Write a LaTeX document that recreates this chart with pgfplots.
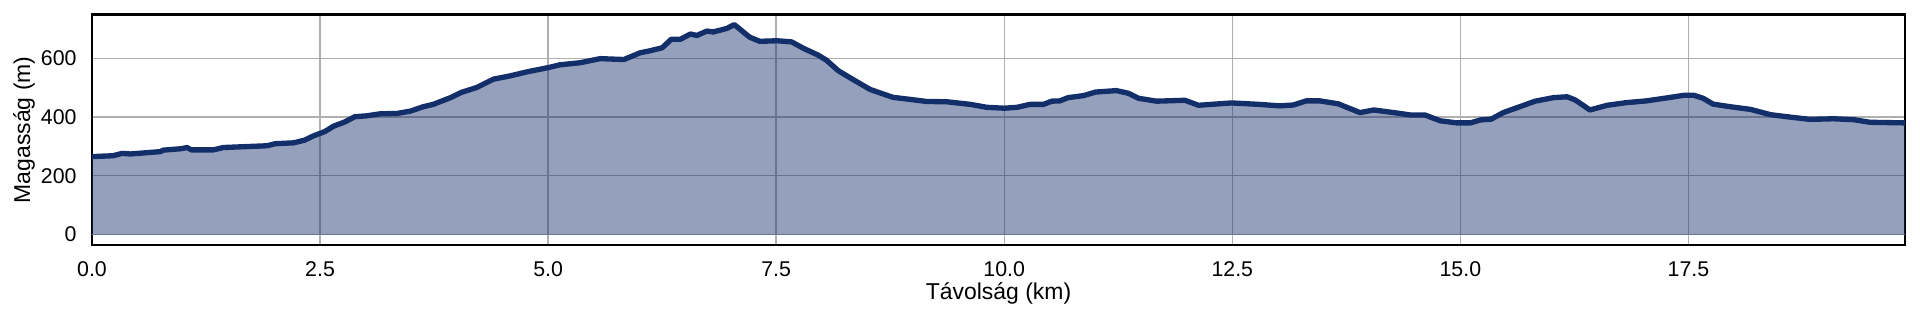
\documentclass[border=0pt]{standalone}
\usepackage{fontspec}
\setmainfont{Liberation Sans}
\usepackage{pgfplots}
\usepackage{pgfplotstable}
\pgfplotsset{compat=1.18}
\definecolor{navy}{RGB}{19,47,106}
\pgfplotstableread{
x y
0.0 265
0.23 268
0.33 276
0.42 274
0.75 282
0.78 287
0.98 292
1.04 296
1.09 288
1.33 288
1.44 296
1.92 302
2.01 309
2.21 312
2.33 321
2.43 336
2.55 350
2.65 369
2.77 383
2.88 401
3.01 404
3.16 411
3.34 412
3.49 420
3.63 435
3.74 443
3.93 466
4.05 484
4.22 501
4.40 529
4.58 540
4.77 554
5.01 569
5.13 578
5.35 585
5.57 599
5.83 596
6.01 619
6.12 626
6.25 636
6.35 665
6.45 665
6.56 683
6.63 678
6.74 693
6.81 690
6.96 702
7.04 715
7.10 700
7.21 672
7.32 658
7.51 660
7.67 656
7.80 634
7.96 611
8.05 594
8.18 558
8.33 530
8.53 494
8.78 467
8.97 460
9.15 453
9.37 452
9.63 443
9.81 433
10.00 430
10.14 433
10.28 443
10.43 443
10.52 454
10.61 455
10.70 466
10.87 473
11.00 485
11.23 490
11.36 481
11.47 464
11.67 454
11.98 457
12.13 440
12.49 448
12.80 443
13.02 438
13.17 441
13.31 455
13.46 455
13.66 445
13.90 415
14.05 424
14.27 415
14.45 407
14.61 407
14.78 387
14.96 380
15.11 380
15.22 390
15.34 393
15.47 415
15.65 435
15.82 454
16.02 466
16.17 469
16.26 458
16.42 424
16.61 440
16.82 449
17.04 455
17.26 465
17.45 474
17.56 474
17.66 464
17.77 444
17.96 435
18.18 426
18.40 408
18.58 401
18.83 392
19.09 394
19.31 391
19.49 382
19.875 380
}\elev
\begin{document}
\begin{tikzpicture}
\useasboundingbox (-34.5pt,-28.1pt) rectangle (685.5pt,91.9pt);
\begin{axis}[
  scale only axis,
  width=679.9pt, height=86.4pt,
  xmin=0, xmax=19.875, ymin=-36.5, ymax=749,
  xtick={0,2.5,5,7.5,10,12.5,15,17.5},
  ytick={0,200,400,600},
  major tick length=0pt,
  grid=major,
  major grid style={color=black!31, line width=0.55pt},
  axis line style={black, line width=0.9pt},
  /pgf/number format/assume math mode=true,
  xticklabel style={/pgf/number format/.cd, fixed, fixed zerofill, precision=1, /tikz/.cd, font=\fontsize{8}{9}\selectfont, anchor=north, inner sep=0pt, yshift=-6pt},
  yticklabel style={font=\fontsize{8}{9}\selectfont, anchor=east, inner sep=0pt, xshift=-5.6pt},
  xlabel={Távolság (km)},
  ylabel={Magasság (m)},
  xlabel style={font=\fontsize{8.6}{10}\selectfont, at={(axis description cs:0.5,-0.2083)}, anchor=center, inner sep=0pt},
  ylabel style={font=\fontsize{8.6}{10}\selectfont, at={(axis description cs:-0.0375,0.5)}, anchor=center, inner sep=0pt},
]
\addplot[draw=none, fill=navy, fill opacity=0.45] table[x=x,y=y] {\elev} \closedcycle;
\addplot[navy!65, line width=0.45pt, forget plot] coordinates {(0,0) (19.875,0)};
\addplot[navy, line width=2pt, line join=round, line cap=round] table[x=x,y=y] {\elev};
\end{axis}
\end{tikzpicture}
\end{document}
